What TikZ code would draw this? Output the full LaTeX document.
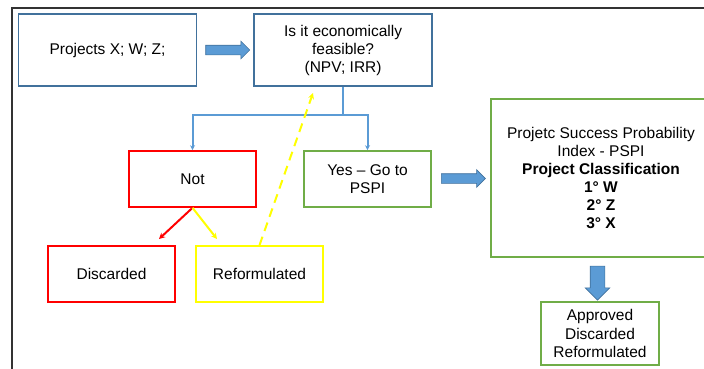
\documentclass[tikz,border=0pt]{standalone}
\usepackage{fontspec}
\setmainfont{Liberation Sans}
\usetikzlibrary{arrows.meta,calc,positioning,shapes.arrows}

\definecolor{boxblue}{HTML}{41719C}
\definecolor{linkblue}{HTML}{5B9BD5}
\definecolor{boxgreen}{HTML}{70AD47}
\definecolor{boxyellow}{HTML}{FFFF00}

\begin{document}
\begin{tikzpicture}[
  x=1pt,y=-1pt,
  font=\fontsize{15.5}{18}\selectfont,
  >={Stealth[length=6pt,width=6pt]},
  box/.style       ={draw,line width=1.6pt,minimum width=127pt,minimum height=56pt,
                     align=center,inner sep=2pt},
  bluebox/.style   ={box,draw=boxblue,minimum width=178pt,minimum height=72pt},
  greenbox/.style  ={box,draw=boxgreen},
  redbox/.style    ={box,draw=red},
  yellowbox/.style ={box,draw=boxyellow},
  blockarrow/.style={single arrow,draw=boxblue,line width=0.6pt,fill=linkblue,
                     inner xsep=0pt,inner ysep=4.5pt,single arrow head extend=4pt,
                     single arrow head indent=0pt,minimum height=44pt},
  link/.style      ={->,line width=2pt},
]

%% page and outer frame
\clip (0,0) rectangle (704,368);
\fill[white] (0,0) rectangle (704,368);
\draw[line width=1.5pt,black!80] (12,380) -- (12,8) -- (720,8);

%% --- top row ---
\node[bluebox] (proj) at (107.5,50) {Projects X; W; Z;};
\node[bluebox,right=56pt of proj] (feas) {Is it economically\\feasible?\\(NPV; IRR)};

%% --- decision row ---
\node[redbox]   (not) at (192.5,179) {Not};
\node[greenbox] (yes) at (367.5,179) {Yes -- Go to\\PSPI};
\node[redbox]    (disc) at (111.5,274) {Discarded};
\node[yellowbox] (refo) at (259.5,274) {Reformulated};

%% --- PSPI column ---
\node[greenbox,minimum width=220pt,minimum height=158pt] (pspi) at (601,178)
     {Projetc Success Probability\\Index - PSPI\\\textbf{Project Classification}\\
      \textbf{1° W}\\\textbf{2° Z}\\\textbf{3° X}};
\node[greenbox,minimum width=118pt,minimum height=63pt,
      font=\fontsize{15.5}{18.5}\selectfont] (final) at (600,333.5)
     {Approved\\Discarded\\Reformulated};

%% --- block arrows ---
\node[blockarrow] (arr1) at ($(proj.east)!0.5!(feas.west)$) {};
\node[blockarrow] (arr2) at ($(yes.east)!0.5!(pspi.west)$) {};
\node[blockarrow,shape border rotate=270,inner sep=7pt,single arrow head extend=5pt,
      minimum height=34pt] (arr3)
     at ($(pspi.south)!0.5!(final.north)+(-3,0)$) {};

%% --- connectors ---
\coordinate (split) at ($(feas.south)+(0,28)$);
\draw[link,draw=linkblue,>={Stealth[length=5pt,width=5pt]}] (feas.south) -- (split) -| (not.north);
\draw[link,draw=linkblue,>={Stealth[length=5pt,width=5pt]}] (split) -| (yes.north);

\coordinate (discend) at (159,239);
\coordinate (refoend) at (217,239);
\coordinate (feasend) at (313,93);
\draw[link,red]       (not.south) -- (discend);
\draw[link,boxyellow] (not.south) -- (refoend);
\draw[link,boxyellow,dash pattern=on 9pt off 6pt] (refo.north) -- (feasend);

\end{tikzpicture}
\end{document}
